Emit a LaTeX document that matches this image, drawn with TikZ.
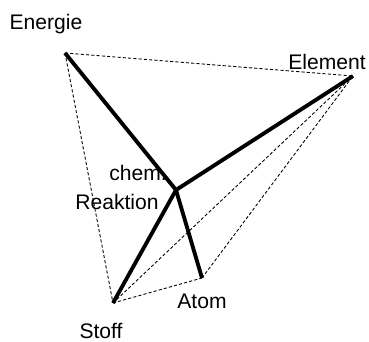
\documentclass[tikz,border=0pt]{standalone}
\usepackage{fontspec}
\setmainfont{Liberation Sans}
\usetikzlibrary{positioning}

\tikzset{
  bond/.style={line width=2.2pt},
  link/.style={line width=0.5pt, dash pattern=on 1.8pt off 1.2pt},
  lbl/.style={font=\fontsize{12}{14}\selectfont, inner sep=0pt}
}

\begin{document}
\begin{tikzpicture}

\useasboundingbox (0,0) rectangle (7.38,6.84);

\coordinate (energie) at (1.30,5.78);
\coordinate (element) at (7.06,5.32);
\coordinate (reaktion) at (3.52,3.04);
\coordinate (stoff) at (2.26,0.78);
\coordinate (atom) at (4.04,1.28);


\draw[link] (energie) -- (element);
\draw[link] (energie) -- (stoff);
\draw[link] (stoff) -- (atom);
\draw[link] (stoff) -- (element);
\draw[link] (atom) -- (element);


\draw[bond] (reaktion) -- (energie);
\draw[bond] (reaktion) -- (element);
\draw[bond] (reaktion) -- (stoff);
\draw[bond] (reaktion) -- (atom);


\node[lbl] (energielbl) at (0.92,6.36) {Energie};
\node[lbl] (elementlbl) at (6.54,5.60) {Element};
\node[lbl] (chemlbl) at (2.76,3.38) {chem.};
\node[lbl] (reaktionlbl) at (2.34,2.80) {Reaktion};
\node[lbl] (stofflbl) at (2.02,0.22) {Stoff};
\node[lbl] (atomlbl) at (4.04,0.82) {Atom};

\end{tikzpicture}
\end{document}
